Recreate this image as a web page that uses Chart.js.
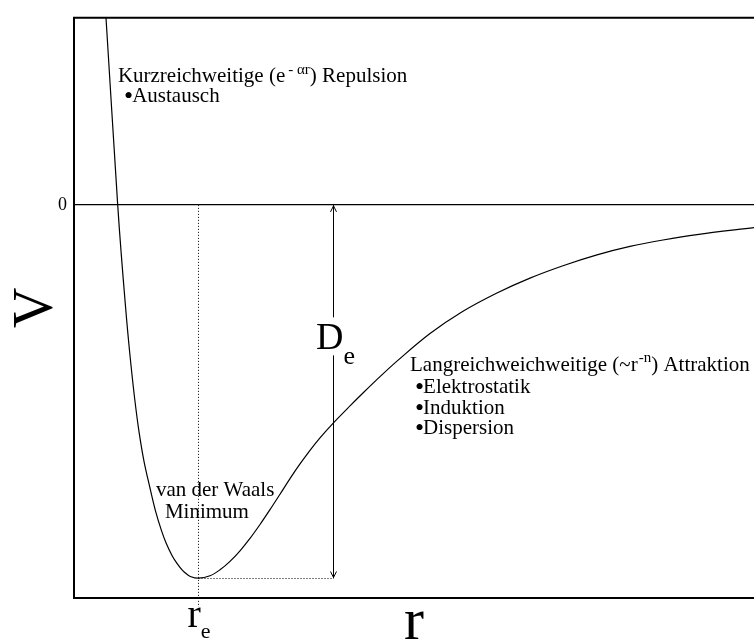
<!DOCTYPE html>
<html>
<head>
<meta charset="utf-8">
<script src="https://cdn.jsdelivr.net/npm/chart.js@4.4.1/dist/chart.umd.min.js"></script>
<style>
  html, body { margin: 0; padding: 0; background: #fff; }
</style>
</head>
<body>
<canvas id="potentialChart" width="754" height="639"></canvas>
<script>
// Abstand r (in Einheiten von r_e)
const rValues = [0.6290, 0.6762, 0.6903, 0.7065, 0.7169, 0.7298, 0.7448, 0.7621, 0.7823, 0.8065,
  0.8286, 0.8528, 0.8722, 0.8952, 0.9153, 0.9375, 0.9556, 0.9718, 1.0000,
  1.0484, 1.0887, 1.1290, 1.1694, 1.2097, 1.2500, 1.2903, 1.3306, 1.3710, 1.4113, 1.4516, 1.4919, 1.5444,
  1.6129, 1.6653, 1.7339, 1.8024, 1.9355, 2.0685, 2.2056, 2.3387, 2.4718, 2.6089, 2.7419, 2.8750, 3.0121, 3.2419];
// Potential V (in Einheiten von D_e)
const vValues = [0.5013, 0.0000, -0.1300, -0.2626, -0.3422, -0.4297, -0.5199, -0.6074, -0.6870, -0.7586,
  -0.8196, -0.8727, -0.9072, -0.9390, -0.9602, -0.9788, -0.9894, -0.9960, -1.0000,
  -0.9934, -0.9775, -0.9549, -0.9265, -0.8934, -0.8562, -0.8164, -0.7751, -0.7332, -0.6939, -0.6573, -0.6239, -0.5851,
  -0.5385, -0.5040, -0.4602, -0.4186, -0.3448, -0.2851, -0.2361, -0.1963, -0.1631, -0.1340, -0.1114, -0.0942, -0.0796, -0.0610];
const yTicks = [0];
const rRange = [0.5, 3.242];
const vRange = [-1.053, 0.501];
const rEq = 1.0;      // Gleichgewichtsabstand r_e
const vMin = -1.0;    // Topftiefe -D_e
const rArrow = 1.544; // Lage des D_e-Pfeils

const SERIF = '"Liberation Serif", "DejaVu Serif", serif';
Chart.defaults.font.family = SERIF;
Chart.defaults.color = '#000';

// Text mit Hoch-/Tiefstellungen stückweise zeichnen: [text, size, dy, dx]
function drawParts(ctx, parts, x, y, align) {
  let total = 0;
  parts.forEach(p => { ctx.font = p[1] + 'px ' + SERIF; total += ctx.measureText(p[0]).width + (p[3] || 0); });
  let cx = align === 'center' ? x - total / 2 : x;
  parts.forEach(p => {
    ctx.font = p[1] + 'px ' + SERIF;
    cx += p[3] || 0;
    ctx.fillText(p[0], cx, y + (p[2] || 0));
    cx += ctx.measureText(p[0]).width;
  });
}

function bulletLine(text) {
  return [['\u2022', 26, 2], [text, 21, 0, -1]];
}

const notesPlugin = {
  id: 'potentialNotes',
  afterDraw(chart) {
    const { ctx, chartArea: a, scales: { x, y } } = chart;
    ctx.save();
    ctx.strokeStyle = '#000';
    ctx.fillStyle = '#000';

    // Rahmen, rechts offen
    ctx.lineWidth = 2;
    ctx.beginPath();
    ctx.moveTo(a.right, a.top);
    ctx.lineTo(a.left, a.top);
    ctx.lineTo(a.left, a.bottom);
    ctx.lineTo(a.right, a.bottom);
    ctx.stroke();

    const xe = Math.round(x.getPixelForValue(rEq)) + 0.5;
    const xa = Math.round(x.getPixelForValue(rArrow)) + 0.5;
    const y0 = y.getPixelForValue(0);
    const ym = Math.round(y.getPixelForValue(vMin)) + 0.5;

    // gepunktete Hilfslinien bei r_e und V_min
    ctx.lineWidth = 1;
    ctx.setLineDash([1, 2]);
    ctx.beginPath();
    ctx.moveTo(xe, y0);
    ctx.lineTo(xe, a.bottom + 9);
    ctx.moveTo(xe, ym);
    ctx.lineTo(xa, ym);
    ctx.stroke();
    ctx.setLineDash([]);

    // Doppelpfeil D_e
    ctx.beginPath();
    ctx.moveTo(xa, y0);
    ctx.lineTo(xa, ym);
    ctx.moveTo(xa - 3, y0 + 7); ctx.lineTo(xa, y0 + 1); ctx.lineTo(xa + 3, y0 + 7);
    ctx.moveTo(xa - 3, ym - 7); ctx.lineTo(xa, ym - 1); ctx.lineTo(xa + 3, ym - 7);
    ctx.stroke();

    ctx.textBaseline = 'alphabetic';
    ctx.textAlign = 'left';

    // D_e mit weißem Hintergrund über dem Pfeil
    const dx = x.getPixelForValue(1.476);
    const dy = y.getPixelForValue(-0.387);
    ctx.font = '38px ' + SERIF;
    const dw = ctx.measureText('D').width;
    ctx.fillStyle = '#fff';
    ctx.fillRect(dx, dy - 32, dw, 38);
    ctx.fillStyle = '#000';
    drawParts(ctx, [['D', 38], ['e', 26, 15]], dx, dy);

    // Beschriftungen
    drawParts(ctx, [['Kurzreichweitige (e', 21], ['- \u03b1r', 15, -8, 3], [') Repulsion', 21]],
      x.getPixelForValue(0.677), y.getPixelForValue(0.329));
    drawParts(ctx, bulletLine('Austausch'), x.getPixelForValue(0.702), y.getPixelForValue(0.276));

    drawParts(ctx, [['Langreichweichweitige (~r', 21], ['-n', 15, -9, 1], [') Attraktion', 21]],
      x.getPixelForValue(1.855), y.getPixelForValue(-0.446));
    drawParts(ctx, bulletLine('Elektrostatik'), x.getPixelForValue(1.875), y.getPixelForValue(-0.504));
    drawParts(ctx, bulletLine('Induktion'), x.getPixelForValue(1.875), y.getPixelForValue(-0.560));
    drawParts(ctx, bulletLine('Dispersion'), x.getPixelForValue(1.875), y.getPixelForValue(-0.615));

    drawParts(ctx, [['van der Waals', 21]], x.getPixelForValue(1.069), y.getPixelForValue(-0.780), 'center');
    drawParts(ctx, [['Minimum', 21]], x.getPixelForValue(1.036), y.getPixelForValue(-0.838), 'center');

    // r_e unter der Achse
    drawParts(ctx, [['r', 40], ['e', 22, 11]], x.getPixelForValue(rEq) + 1, a.bottom + 29, 'center');

    ctx.restore();
  }
};

new Chart(document.getElementById('potentialChart'), {
  type: 'line',
  data: {
    datasets: [{
      data: rValues.map((r, i) => ({ x: r, y: vValues[i] })),
      borderColor: '#000',
      borderWidth: 1.2,
      pointRadius: 0,
      fill: false,
      tension: 0.35
    }]
  },
  options: {
    responsive: false,
    animation: false,
    layout: { padding: { top: 12, right: 0, bottom: 0, left: 0 } },
    plugins: { legend: { display: false }, tooltip: { enabled: false } },
    scales: {
      x: {
        type: 'linear',
        min: rRange[0],
        max: rRange[1],
        grid: { display: false },
        border: { display: false },
        ticks: { display: false },
        title: { display: true, text: 'r', font: { size: 60, lineHeight: 0.54 }, padding: 0 },
        afterFit: (scale) => { scale.height = 41; }
      },
      y: {
        type: 'linear',
        min: vRange[0],
        max: vRange[1],
        afterBuildTicks: (scale) => { scale.ticks = yTicks.map(v => ({ value: v })); },
        grid: { color: '#000', lineWidth: 1.3, drawTicks: false },
        border: { display: false },
        ticks: { padding: 7, font: { size: 18 } },
        title: { display: true, text: 'V', font: { size: 56, lineHeight: 1.34 }, padding: 0 },
        afterFit: (scale) => { scale.width = 74; }
      }
    }
  },
  plugins: [notesPlugin]
});
</script>
</body>
</html>
